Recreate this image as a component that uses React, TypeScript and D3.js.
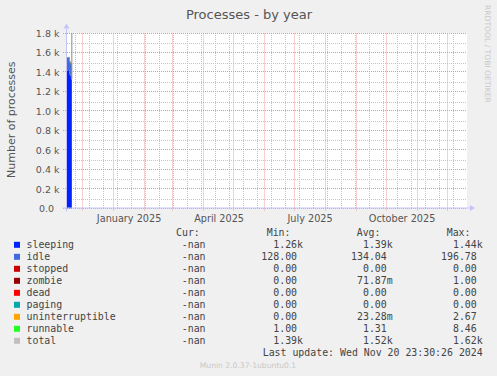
import React from "react";
import * as d3 from "d3";

// ---- data ----
const seriesNames = ["sleeping", "idle", "stopped", "zombie", "dead", "paging", "uninterruptible", "runnable", "total"];
const seriesColors = ["#0022ff", "#4169e1", "#cc0000", "#990000", "#ff0000", "#00aaaa", "#ffa500", "#22ff22", "#c0c0c0"];
const sampleDates = ["2024-11-15T00:00", "2024-11-16T00:00", "2024-11-17T00:00", "2024-11-18T00:00", "2024-11-19T00:00", "2024-11-20T00:00", "2024-11-20T12:00"];
const sleeping = [1420, 1420, 1425, 1380, 1362, 1330, 1330];
const idle = [131, 131, 128, 130, 132, 135, 135];
const stopped = [0, 0, 0, 0, 0, 0, 0];
const zombie = [0, 0, 0, 1, 0, 0, 0];
const dead = [0, 0, 0, 0, 0, 0, 0];
const paging = [0, 0, 0, 0, 0, 0, 0];
const uninterruptible = [0, 0, 0, 0, 1, 0, 0];
const runnable = [1, 1, 1, 2, 1, 1, 1];
const total = [1552, 1552, 1555, 1512, 1494, 1330, 1900];

const curCol = ["-nan", "-nan", "-nan", "-nan", "-nan", "-nan", "-nan", "-nan", "-nan"];
const minCol = ["1.26k", "128.00", "0.00", "0.00", "0.00", "0.00", "0.00", "1.00", "1.39k"];
const avgCol = ["1.39k", "134.04", "0.00", "71.87m", "0.00", "0.00", "23.28m", "1.31", "1.52k"];
const maxCol = ["1.44k", "196.78", "0.00", "1.00", "0.00", "0.00", "2.67", "8.46", "1.62k"];

const yTicks = [0, 200, 400, 600, 800, 1000, 1200, 1400, 1600, 1800];
const yMinorTicks = [100, 300, 500, 700, 900, 1100, 1300, 1500, 1700];
const xLabelMonths = ["2025-01-01", "2025-04-01", "2025-07-01", "2025-10-01"];
const domainStart = "2024-11-15T16:00";
const domainDays = 400;
const minorGridStart = "2024-11-24T00:00";

const title = "Processes - by year";
const yLabel = "Number of processes";
const lastUpdate = "Last update: Wed Nov 20 23:30:26 2024";
const version = "Munin 2.0.37-1ubuntu0.1";
const watermark = "RRDTOOL / TOBI OETIKER";

const parse = (s: string) => new Date(s);

export default function App() {
  const W = 497, H = 376;
  const L = 67, R = 467, T = 33.5, B = 208.5;
  const start = parse(domainStart);
  const end = d3.timeDay.offset(start, domainDays);
  const x = d3.scaleTime().domain([start, end]).range([L, R]);
  const y = d3.scaleLinear().domain([0, 1800]).range([B, T]);

  const dates = sampleDates.map(parse);
  const stackSeries = [sleeping, idle, stopped, zombie, dead, paging, uninterruptible, runnable];
  const rows = dates.map((d, i) => {
    const o: any = { date: d };
    stackSeries.forEach((s, k) => (o[k] = s[i]));
    return o;
  });
  const stack = d3.stack<any>().keys(stackSeries.map((_, k) => String(k)));
  const layers = stack(rows);
  const area = d3.area<any>()
    .x((d) => x(d.data.date))
    .y0((d) => y(d[0]))
    .y1((d) => y(d[1]))
    .curve(d3.curveStepAfter);
  const totalLine = d3.line<number>()
    .x((_, i) => x(dates[i]))
    .y((v) => y(v))
    .curve(d3.curveStepAfter);

  const months = d3.timeMonth.range(d3.timeMonth.ceil(start), end);
  const minorDays: Date[] = [];
  for (let d = parse(minorGridStart); d < end; d = d3.timeDay.offset(d, 14)) minorDays.push(d);

  const sans = "'DejaVu Sans', sans-serif";
  const mono = "'DejaVu Sans Mono', monospace";
  const txt = "#444";
  const fs = 9.9;
  const charW = fs * 0.602;

  const colEnds = [211.5, 303, 392.7, 482.7];
  const cellX = (end: number, s: string) => (/[0-9n]$/.test(s) ? end - charW : end);
  const gy0 = Math.floor(T);
  const gy1 = Math.floor(B);

  return (
    <svg width={W} height={H} style={{ position: "absolute", left: 0, top: 0 }} xmlns="http://www.w3.org/2000/svg">
      <defs>
        <clipPath id="plotclip">
          <rect x={L} y={T - 0.5} width={R - L} height={B - T + 0.5} />
        </clipPath>
      </defs>
      <rect x={0} y={0} width={W} height={H} fill="#f0f0f0" />
      <rect x={L} y={T - 0.5} width={R - L} height={B - T + 0.5} fill="#ffffff" />

      {/* minor grid */}
      {yMinorTicks.map((v) => (
        <line key={"ym" + v} x1={L} x2={R} y1={Math.round(y(v)) + 0.5} y2={Math.round(y(v)) + 0.5} stroke="#c4c4c4" strokeDasharray="1,1" />
      ))}
      {minorDays.map((d, i) => (
        <line key={"xm" + i} x1={Math.round(x(d)) + 0.5} x2={Math.round(x(d)) + 0.5} y1={gy0} y2={gy1} stroke="#c4c4c4" strokeDasharray="1,1" />
      ))}
      {/* major grid */}
      {yTicks.map((v) => (
        <line key={"yM" + v} x1={L - 4} x2={R} y1={Math.round(y(v)) - 0.5} y2={Math.round(y(v)) - 0.5} stroke="#ee9090" strokeDasharray="1,1" />
      ))}
      {months.map((d, i) => (
        <line key={"xM" + i} x1={Math.round(x(d)) + 0.5} x2={Math.round(x(d)) + 0.5} y1={T} y2={B + 3} stroke="#f2a0a0" strokeDasharray="1,1" />
      ))}

      {/* data */}
      <g clipPath="url(#plotclip)">
        {layers.map((layer, k) => (
          <path key={"a" + k} d={area(layer) || ""} fill={seriesColors[k]} />
        ))}
        <path d={totalLine(total) || ""} fill="none" stroke="#8a8a8a" strokeWidth={1} />
      </g>

      {/* axes */}
      <line x1={L - 4} x2={R + 3} y1={B - 0.5} y2={B - 0.5} stroke="#c4c4f4" />
      <path d={`M${R + 3},${B - 3.5} L${R + 8},${B - 0.5} L${R + 3},${B + 2.5} Z`} fill="#c4c4f4" />
      <line x1={L - 0.5} x2={L - 0.5} y1={B + 3} y2={T - 5} stroke="#c4c4f4" />
      <path d={`M${L - 3.5},${T - 5} L${L - 0.5},${T - 10} L${L + 2.5},${T - 5} Z`} fill="#c4c4f4" />

      {/* y tick labels */}
      {yTicks.map((v) => (
        <text key={"yl" + v} x={v === 0 ? 54 : 59.5} y={y(v) + 3.5} textAnchor="end" fontFamily={sans} fontSize={9.5} fill="#555">
          {v === 0 ? "0.0" : (v / 1000).toFixed(1) + " k"}
        </text>
      ))}
      {/* x labels */}
      {xLabelMonths.map((m) => {
        const d = parse(m + "T00:00");
        const c = x(new Date(d.getTime() + 15.75 * 86400000));
        return (
          <text key={m} x={c} y={221.5} textAnchor="middle" fontFamily={sans} fontSize={9.7} fill="#555">
            {d3.timeFormat("%B %Y")(d)}
          </text>
        );
      })}

      {/* title and labels */}
      <text x={249} y={18.5} textAnchor="middle" fontFamily={sans} fontSize={13} fill="#555">{title}</text>
      <text transform={`translate(14.5,119.7) rotate(-90)`} textAnchor="middle" fontFamily={sans} fontSize={11} fill="#555">{yLabel}</text>
      <text transform={`translate(484.5,5) rotate(90)`} textAnchor="start" fontFamily={sans} fontSize={7.6} fill="#c8c8c8">{watermark}</text>

      {/* legend */}
      <g fontFamily={mono} fontSize={fs} fill={txt}>
        <text x={176} y={235.8}>Cur:</text>
        <text x={266.7} y={235.8}>Min:</text>
        <text x={356.7} y={235.8}>Avg:</text>
        <text x={446.7} y={235.8}>Max:</text>
        {seriesNames.map((n, i) => {
          const by = 247.8 + i * 12;
          return (
            <g key={n}>
              <rect x={14} y={by - 6} width={6} height={6} fill={seriesColors[i]} />
              <text x={26.5} y={by}>{n}</text>
              {[curCol[i], minCol[i], avgCol[i], maxCol[i]].map((s, c) => (
                <text key={c} x={cellX(colEnds[c], s)} y={by} textAnchor="end">{s}</text>
              ))}
            </g>
          );
        })}
        <text x={482.7} y={355.8} textAnchor="end">{lastUpdate}</text>
      </g>
      <text x={248} y={367.5} textAnchor="middle" fontFamily={sans} fontSize={7.6} fill="#c8c8c8">{version}</text>
    </svg>
  );
}
